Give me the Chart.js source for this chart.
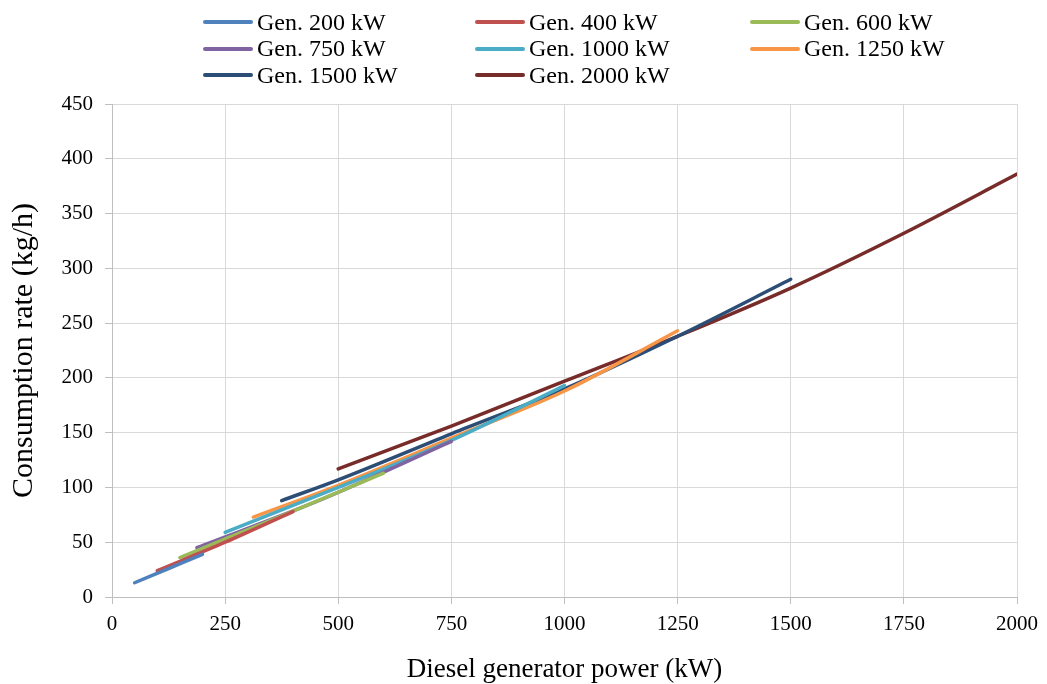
<!DOCTYPE html>
<html>
<head>
<meta charset="utf-8">
<script src="https://cdn.jsdelivr.net/npm/chart.js@4.4.1/dist/chart.umd.min.js"></script>
<style>
  html, body { margin: 0; padding: 0; background: #fff; }
  #wrap { position: relative; width: 1047px; height: 684px; }
  #legend {
    position: absolute; left: 203px; top: 9px;
    display: grid; grid-template-columns: 272px 275px 240px;
    font-family: "Liberation Serif", "Times New Roman", serif; font-size: 24px; color: #000;
  }
  .item { display: flex; align-items: center; height: 26.5px; white-space: nowrap; }
  .swatch { width: 50px; height: 4px; margin-right: 4px; border-radius: 2px; }
</style>
</head>
<body>
<div id="wrap">
  <canvas id="chart" width="1047" height="684"></canvas>
  <div id="legend"></div>
</div>
<script>
// Series names and colours
const seriesNames = ['Gen. 200 kW', 'Gen. 400 kW', 'Gen. 600 kW', 'Gen. 750 kW',
                     'Gen. 1000 kW', 'Gen. 1250 kW', 'Gen. 1500 kW', 'Gen. 2000 kW'];
const seriesColors = ['#4F81BD', '#C0504D', '#9BBB59', '#8064A2',
                      '#4BACC6', '#F79646', '#2C4D75', '#772C2A'];

// Power (kW) and consumption (kg/h) for each generator, 25% to 100% load
const gen200Power = [50, 125, 200];
const gen200Rate = [13, 26, 39];
const gen400Power = [100, 250, 400];
const gen400Rate = [24, 50, 78];
const gen600Power = [150, 375, 600];
const gen600Rate = [36, 74, 113];
const gen750Power = [187.5, 468.75, 750];
const gen750Rate = [45, 90, 142];
const gen1000Power = [250, 500, 750, 1000];
const gen1000Rate = [59, 100, 143, 193];
const gen1250Power = [312.5, 500, 750, 1000, 1250];
const gen1250Rate = [73, 102, 145, 188, 243];
const gen1500Power = [375, 500, 750, 1000, 1250, 1500];
const gen1500Rate = [88, 107, 149, 190, 238, 290];
const gen2000Power = [500, 750, 1000, 1250, 1500, 1750, 2000];
const gen2000Rate = [117, 156, 197, 238, 282, 332, 386];

const powers = [gen200Power, gen400Power, gen600Power, gen750Power,
                gen1000Power, gen1250Power, gen1500Power, gen2000Power];
const rates = [gen200Rate, gen400Rate, gen600Rate, gen750Rate,
               gen1000Rate, gen1250Rate, gen1500Rate, gen2000Rate];

const serif = '"Liberation Serif", "Times New Roman", serif';

function buildDatasets() {
    return seriesNames.map((name, i) => ({
        label: name,
        data: powers[i].map((p, j) => ({ x: p, y: rates[i][j] })),
        borderColor: seriesColors[i],
        backgroundColor: seriesColors[i],
        borderWidth: 3.5,
        borderCapStyle: 'round',
        pointRadius: 0,
        cubicInterpolationMode: 'monotone',
        fill: false
    }));
}

function buildLegend() {
    const box = document.getElementById('legend');
    seriesNames.forEach((name, i) => {
        const item = document.createElement('div');
        item.className = 'item';
        const sw = document.createElement('span');
        sw.className = 'swatch';
        sw.style.background = seriesColors[i];
        item.appendChild(sw);
        item.appendChild(document.createTextNode(name));
        box.appendChild(item);
    });
}

function createChart() {
    const ctx = document.getElementById('chart').getContext('2d');
    new Chart(ctx, {
        type: 'line',
        data: { datasets: buildDatasets() },
        options: {
            responsive: false,
            animation: false,
            layout: { padding: { top: 104, right: 30, left: 0, bottom: 0 } },
            plugins: { legend: { display: false }, tooltip: { enabled: false } },
            scales: {
                x: {
                    type: 'linear',
                    min: 0, max: 2000,
                    ticks: { stepSize: 250, color: '#000', font: { family: serif, size: 21 }, padding: 8,
                             maxRotation: 0, callback: (v) => String(v) },
                    grid: { color: '#d9d9d9', tickLength: 7, tickColor: '#bfbfbf' },
                    border: { color: '#bfbfbf' },
                    title: { display: true, text: 'Diesel generator power (kW)', color: '#000',
                             font: { family: serif, size: 27 }, padding: { top: 4, bottom: -2 } },
                    afterFit: (s) => { s.height = 87; }
                },
                y: {
                    min: 0, max: 450,
                    ticks: { stepSize: 50, color: '#000', font: { family: serif, size: 21 }, padding: 12,
                             callback: (v) => String(v) },
                    grid: { color: '#d9d9d9', tickLength: 7, tickColor: '#bfbfbf' },
                    border: { color: '#bfbfbf' },
                    title: { display: true, text: 'Consumption rate (kg/h)', color: '#000',
                             font: { family: serif, size: 30 }, padding: { top: 6, bottom: 0 } },
                    afterFit: (s) => { s.width = 112; }
                }
            }
        }
    });
}

buildLegend();
createChart();
</script>
</body>
</html>
